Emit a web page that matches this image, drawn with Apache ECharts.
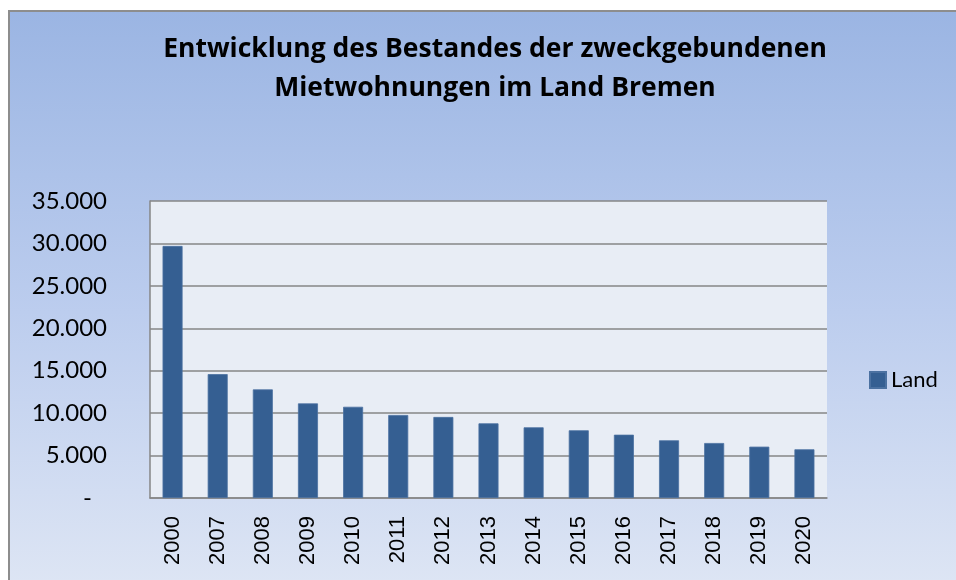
<!DOCTYPE html>
<html>
<head>
<meta charset="utf-8">
<script src="https://cdn.jsdelivr.net/npm/echarts@6/dist/echarts.min.js"></script>
<style>
  html, body { margin: 0; padding: 0; background: #ffffff; width: 956px; height: 580px; overflow: hidden; }
  #frame {
    position: absolute; left: 8px; top: 10px; width: 1000px; height: 620px;
    border-top: 2px solid #8d8d8d; border-left: 2px solid #8d8d8d;
    background: linear-gradient(to bottom, #9bb5e3 0px, #bccdee 300px, #dde5f4 570px);
  }
  #chart { position: absolute; left: 0; top: 0; width: 956px; height: 580px; }
</style>
</head>
<body>
<div id="frame"></div>
<div id="chart"></div>
<script>
// Bestand der zweckgebundenen Mietwohnungen im Land Bremen
const years = ['2000', '2007', '2008', '2009', '2010', '2011', '2012', '2013',
               '2014', '2015', '2016', '2017', '2018', '2019', '2020'];
const land = [29700, 14600, 12800, 11150, 10750, 9780, 9550, 8800,
              8330, 7980, 7460, 6800, 6480, 6050, 5740];
const seriesName = 'Land';
const titleLines = ['Entwicklung des Bestandes der zweckgebundenen', 'Mietwohnungen im Land Bremen'];

// German thousands separator; zero shown as a dash
function fmt(v) {
  if (v === 0) return '{z|-}';
  return String(v).replace(/\B(?=(\d{3})+(?!\d))/g, '.');
}

const chart = echarts.init(document.getElementById('chart'), null, { renderer: 'canvas' });
chart.setOption({
  backgroundColor: 'transparent',
  animation: false,
  title: {
    text: titleLines.join('\n'),
    left: 490,
    top: 25,
    textAlign: 'center',
    textStyle: {
      fontFamily: 'Open Sans', fontWeight: 'bold', fontSize: 26.5, lineHeight: 39, color: '#000000'
    }
  },
  legend: {
    data: [seriesName],
    left: 864,
    top: 364,
    itemWidth: 16,
    itemHeight: 16,
    icon: 'rect',
    textStyle: { fontFamily: 'Lato', fontSize: 22, color: '#000000' }
  },
  grid: { left: 150, top: 201, right: 129, bottom: 82, containLabel: false,
          show: true, backgroundColor: '#e8edf5', borderWidth: 0 },
  xAxis: {
    type: 'category',
    data: years,
    axisLine: { show: true, lineStyle: { color: '#868686', width: 1.5 } },
    axisTick: { show: false },
    axisLabel: { rotate: 90, margin: 18, fontFamily: 'Liberation Sans', fontSize: 22, color: '#000000' }
  },
  yAxis: {
    type: 'value',
    min: 0, max: 35000, interval: 5000,
    axisLine: { show: true, lineStyle: { color: '#868686', width: 1.5 } },
    axisTick: { show: false },
    splitLine: { show: true, lineStyle: { color: '#868686', width: 1.5 } },
    axisLabel: {
      margin: 43, fontFamily: 'Lato', fontSize: 24, color: '#000000',
      formatter: fmt,
      rich: { z: { fontFamily: 'Lato', fontSize: 24, color: '#000000', padding: [0, 15, 0, 0] } }
    }
  },
  series: [{
    name: seriesName,
    type: 'bar',
    data: land,
    barWidth: 20,
    itemStyle: { color: '#355f92', borderColor: '#4b71a1', borderWidth: 0.8 }
  }]
});
</script>
</body>
</html>
